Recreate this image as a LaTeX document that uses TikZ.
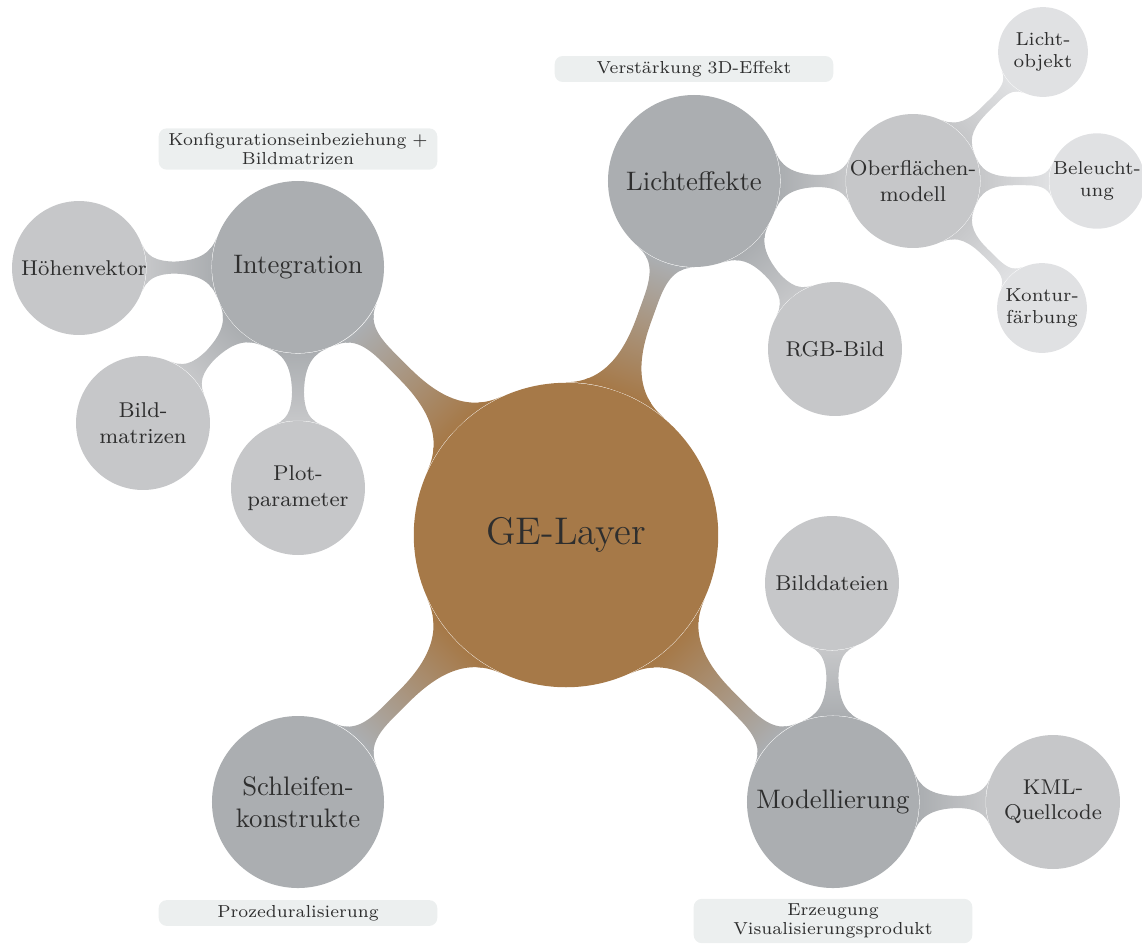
\documentclass[tikz,border=0pt]{standalone}
\usetikzlibrary{mindmap}
\definecolor{rootc}{HTML}{A67948}
\definecolor{lvla}{HTML}{ABAEB1}
\definecolor{lvlb}{HTML}{C6C7C9}
\definecolor{lvlc}{HTML}{E0E1E3}
\definecolor{notec}{HTML}{ECEFEF}
\definecolor{ink}{HTML}{2E2E2E}
\begin{document}
\begin{tikzpicture}[x=0.013135cm,y=-0.013135cm,
  bubble/.style={circle,inner sep=0pt,align=center,text=ink},
  rootbubble/.style={bubble,fill=rootc,minimum size=4cm,font=\Large},
  mainbubble/.style={bubble,fill=lvla,minimum size=2.26cm,font=\normalsize},
  subbubble/.style={bubble,fill=lvlb,minimum size=1.76cm,font=\footnotesize},
  leafbubble/.style={bubble,fill=lvlc,minimum size=1.18cm,font=\scriptsize},
  note/.style={rectangle,rounded corners=3pt,fill=notec,text=ink,
    font=\fontsize{6.5}{7}\selectfont,
    text width=3.5cm,align=center,inner xsep=0.8mm,inner ysep=1.9pt},
  rootlink/.style={circle connection bar switch color=from (rootc) to (lvla)},
  mainlink/.style={circle connection bar switch color=from (lvla) to (lvlb)},
  sublink/.style={circle connection bar switch color=from (lvlb) to (lvlc)}]
\useasboundingbox (0,0) rectangle (1142,945);

% central concept
\node[rootbubble] (ge) at (566,535) {GE-Layer};

% first level
\node[mainbubble] (integ) at (298,267) {Integration};
\node[mainbubble] (licht) at (694,181) {Lichteffekte};
\node[mainbubble] (schl)  at (298,802) {Schleifen-\\konstrukte};
\node[mainbubble] (model) at (833,802) {Modellierung};

% second level (the long word runs past the right rim)
\node[subbubble] (hoehe) at (79,268)   {\makebox[0pt]{\hspace{0.13cm}H\"ohenvektor}};
\node[subbubble] (bildm) at (143,423)  {Bild-\\matrizen};
\node[subbubble] (plot)  at (298,488)  {Plot-\\parameter};
\node[subbubble] (rgb)   at (835,349)  {RGB-Bild};
\node[subbubble] (oberf) at (913,181)  {Oberfl\"achen-\\modell};
\node[subbubble] (bdat)  at (832,583)  {Bilddateien};
\node[subbubble] (kml)   at (1053,802) {KML-\\Quellcode};

% third level
\node[leafbubble] (lobj)  at (1043,52)  {Licht-\\objekt};
\node[leafbubble] (bel)   at (1097,181) {Beleucht-\\ung};
\node[leafbubble] (kont)  at (1042,308) {Kontur-\\f\"arbung};

% connection bars
\path (ge) to[rootlink] (integ);
\path (ge) to[rootlink] (licht);
\path (ge) to[rootlink] (schl);
\path (ge) to[rootlink] (model);
\path (integ) to[mainlink] (hoehe);
\path (integ) to[mainlink] (bildm);
\path (integ) to[mainlink] (plot);
\path (licht) to[mainlink] (rgb);
\path (licht) to[mainlink] (oberf);
\path (model) to[mainlink] (bdat);
\path (model) to[mainlink] (kml);
\path (oberf) to[sublink] (lobj);
\path (oberf) to[sublink] (bel);
\path (oberf) to[sublink] (kont);

% annotations
\node[note] (n1) at (694,69)  {Verst\"arkung 3D-Effekt};
\node[note] (n2) at (298,149) {Konfigurationseinbeziehung +\\Bildmatrizen};
\node[note] (n3) at (298,913) {Prozeduralisierung};
\node[note] (n4) at (833,921) {Erzeugung\\Visualisierungsprodukt};
\end{tikzpicture}
\end{document}
